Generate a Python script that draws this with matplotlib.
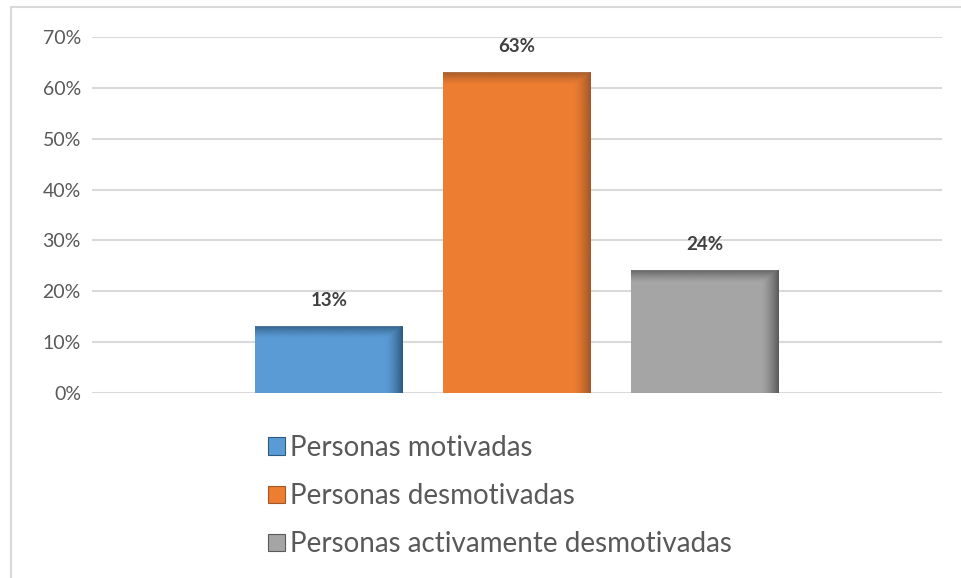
import numpy as np
import matplotlib.pyplot as plt
from matplotlib.patches import Rectangle, Patch
from matplotlib.colors import to_rgb

# data
series = ['Personas motivadas', 'Personas desmotivadas', 'Personas activamente desmotivadas']
values = [13, 63, 24]
colors = ['#5B9BD5', '#ED7D31', '#A5A5A5']
darks = ['#2F5A80', '#A0582A', '#5A5A5A']
yticks = [0, 10, 20, 30, 40, 50, 60, 70]

plt.rcParams['font.family'] = ['Lato', 'DejaVu Sans']

W, H = 961, 578
fig = plt.figure(figsize=(W / 100, H / 100), dpi=100)
ax = fig.add_axes([92 / W, 1 - 393 / H, (942 - 92) / W, (393 - 37) / H])

# outer chart frame (only top and left edges visible)
fig.patches.append(Rectangle((11 / W, -0.2), 1.2, 1.2 - 7 / H, transform=fig.transFigure,
                             fill=False, edgecolor='#d9d9d9', linewidth=1.5, zorder=0))

x = np.arange(len(values))
width = 0.787
ax.bar(x, values, width=width, color=colors, zorder=2)

# shading on the right and top of each bar
px_per_unit_y = (393 - 37) / 70.0
for xi, v, c, d in zip(x, values, colors, darks):
    n = 200
    cols = np.linspace(0, 1, n)
    rows = np.linspace(1, 0, n)
    right = np.clip((cols - 0.88) / 0.12, 0, 1) ** 1.5
    top_frac = 12 / (v * px_per_unit_y)
    top = np.clip((rows - (1 - top_frac)) / top_frac, 0, 1) ** 1.3
    alpha = np.maximum(right[None, :], top[:, None] * 0.85)
    img = np.zeros((n, n, 4))
    img[..., :3] = to_rgb(d)
    img[..., 3] = alpha
    ax.imshow(img, extent=(xi - width / 2, xi + width / 2, 0, v), aspect='auto',
              zorder=3, interpolation='bilinear')
    ax.text(xi, v + 3.5, f'{v}%', ha='center', va='bottom', fontsize=13.5,
            fontweight='bold', color='#404040', zorder=4)

ax.set_xlim(-1.2606, 3.2606)
ax.set_ylim(0, 70)
ax.set_yticks(yticks)
ax.set_yticklabels([f'{t}%' for t in yticks], fontsize=14, color='#595959')
ax.set_xticks([])
ax.tick_params(axis='y', length=0, pad=8)
ax.grid(axis='y', color='#d9d9d9', linewidth=1.5, zorder=0)
for s in ax.spines.values():
    s.set_visible(False)

handles = [Patch(facecolor=c, edgecolor=d, linewidth=0.8) for c, d in zip(colors, darks)]
fig.legend(handles, series, loc='upper left', bbox_to_anchor=(254 / W, 1 - 421 / H),
           frameon=False, fontsize=20, labelcolor='#595959', handlelength=0.6,
           handleheight=0.6, handletextpad=0.2, labelspacing=0.8, borderpad=0)

fig.savefig('out.png', dpi=100)
